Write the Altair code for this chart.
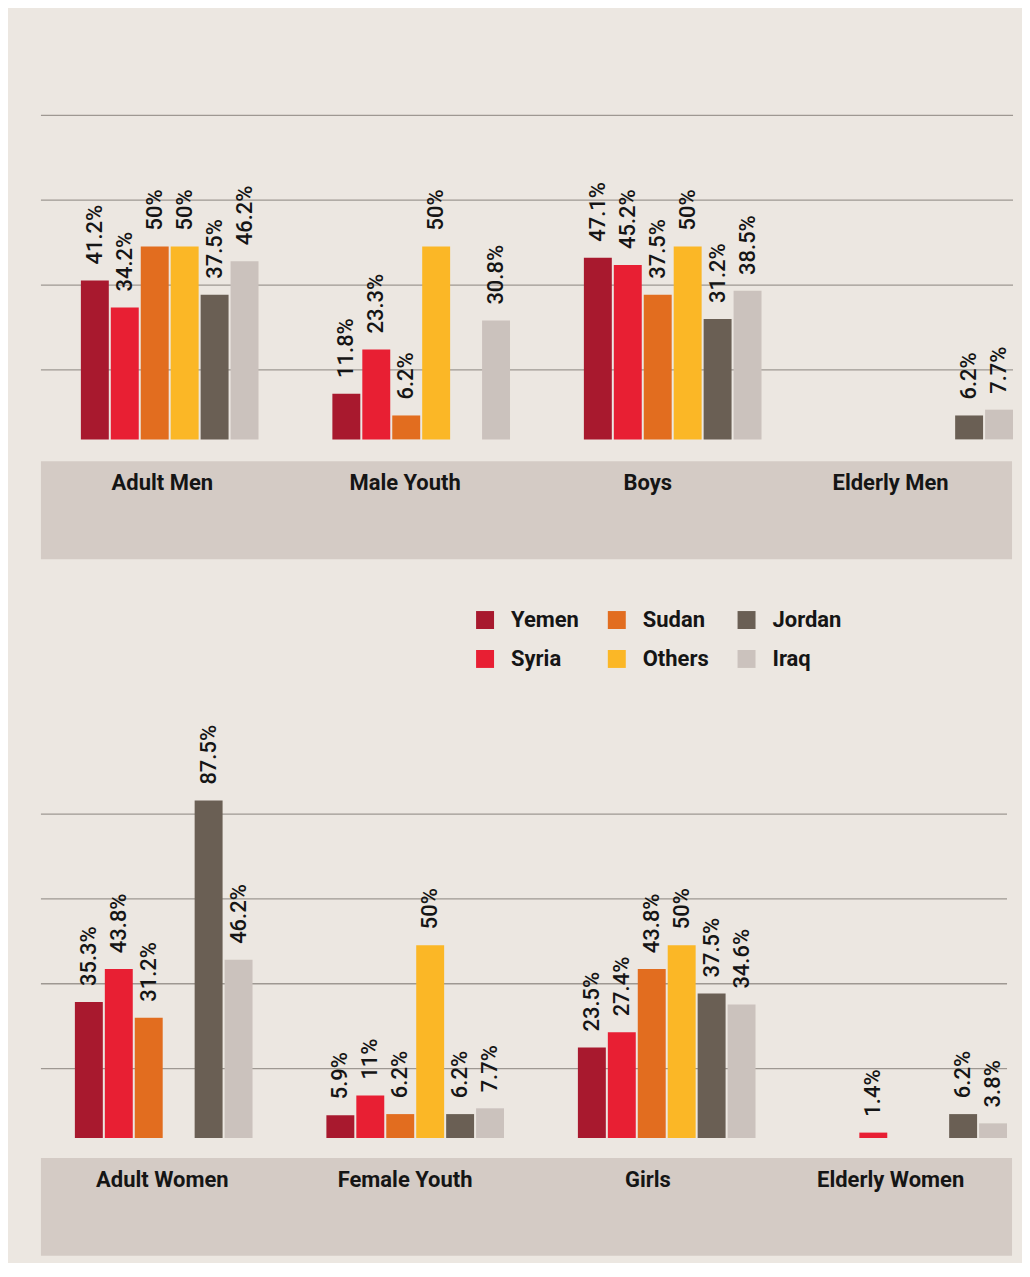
import altair as alt
import pandas as pd

# ---------------- data ----------------
countries = ["Yemen", "Syria", "Sudan", "Others", "Jordan", "Iraq"]
country_colors = ["#A8192E", "#E81F33", "#E26D1F", "#FBB726", "#6A5F54", "#CBC2BD"]
legend_order = ["Yemen", "Sudan", "Jordan", "Syria", "Others", "Iraq"]

men_groups = ["Adult Men", "Male Youth", "Boys", "Elderly Men"]
adult_men = [41.2, 34.2, 50, 50, 37.5, 46.2]
male_youth = [11.8, 23.3, 6.2, 50, None, 30.8]
boys = [47.1, 45.2, 37.5, 50, 31.2, 38.5]
elderly_men = [None, None, None, None, 6.2, 7.7]

women_groups = ["Adult Women", "Female Youth", "Girls", "Elderly Women"]
adult_women = [35.3, 43.8, 31.2, None, 87.5, 46.2]
female_youth = [5.9, 11, 6.2, 50, 6.2, 7.7]
girls = [23.5, 27.4, 43.8, 50, 37.5, 34.6]
elderly_women = [None, 1.4, None, None, 6.2, 3.8]

grid_values = [18, 40, 62, 84]

# ---------------- styles ----------------
FONT = "Roboto"
TEXT = "#151515"
BG = "#ECE7E1"
BAND = "#D4CBC5"
GRID = "#9E9892"

color_map = dict(zip(countries, country_colors))
legend_colors = [color_map[c] for c in legend_order]


def make_df(groups, series):
    rows = []
    for g, vals in zip(groups, series):
        for c, v in zip(countries, vals):
            if v is not None:
                rows.append({"group": g, "country": c, "value": v, "label": f"{v:g}%"})
    return pd.DataFrame(rows)


def bar_panel(groups, series, ymax, width, height, pad_outer):
    df = make_df(groups, series)
    yscale = alt.Scale(domain=[0, ymax], nice=False, zero=True)
    xscale = alt.Scale(domain=groups, paddingInner=0.2937, paddingOuter=pad_outer, align=1)
    xoff = alt.XOffset("country:N", sort=countries,
                       scale=alt.Scale(domain=countries, paddingInner=0.067, paddingOuter=0))

    grid = alt.Chart(pd.DataFrame({"v": grid_values})).mark_rule(
        color=GRID, strokeWidth=1.3
    ).encode(y=alt.Y("v:Q", scale=yscale, axis=None))

    bars = alt.Chart(df).mark_bar().encode(
        x=alt.X("group:N", sort=groups, scale=xscale, axis=None),
        xOffset=xoff,
        y=alt.Y("value:Q", scale=yscale, axis=None),
        color=alt.Color(
            "country:N",
            scale=alt.Scale(domain=legend_order, range=legend_colors),
            legend=alt.Legend(
                title=None,
                orient="none",
                legendX=434,
                legendY=601,
                direction="horizontal",
                columns=3,
                columnPadding=26,
                rowPadding=17,
                symbolType="square",
                symbolSize=324,
                symbolStrokeWidth=0,
                symbolOpacity=1,
                labelFont=FONT,
                labelFontSize=22,
                labelFontWeight="bold",
                labelColor=TEXT,
                labelOffset=15,
                padding=0,
            ),
        ),
    )

    labels = alt.Chart(df).mark_text(
        angle=270, align="left", baseline="middle", dx=16,
        font=FONT, fontSize=22, fontWeight=500, color=TEXT,
    ).encode(
        x=alt.X("group:N", sort=groups, scale=xscale, axis=None),
        xOffset=xoff,
        y=alt.Y("value:Q", scale=yscale, axis=None),
        text="label:N",
    )

    return alt.layer(grid, bars, labels).properties(width=width, height=height)


def band_panel(groups):
    df = pd.DataFrame({"group": groups})
    return alt.Chart(df).mark_text(
        font=FONT, fontSize=22, fontWeight="bold", color=TEXT, baseline="alphabetic"
    ).encode(
        x=alt.X("group:N", sort=groups,
                scale=alt.Scale(domain=groups, paddingInner=0, paddingOuter=0), axis=None),
        y=alt.value(29),
        text="group:N",
    ).properties(width=973, height=98, view=alt.ViewBackground(fill=BAND, strokeWidth=0))


top = bar_panel(men_groups, [adult_men, male_youth, boys, elderly_men], 111.5, 974, 431, 0.0794)
bottom = bar_panel(women_groups, [adult_women, female_youth, girls, elderly_women], 116.2, 968, 449, 0.0675)

upper = alt.vconcat(top, band_panel(men_groups), spacing=22)
lower = alt.vconcat(bottom, band_panel(women_groups), spacing=20)

chart = alt.vconcat(upper, lower, spacing=131).properties(
    background=BG,
    padding={"left": 32, "top": 0, "right": 8, "bottom": 6},
).configure_view(strokeWidth=0)

chart.save("out.html", embed_options={"renderer": "svg", "actions": False})
